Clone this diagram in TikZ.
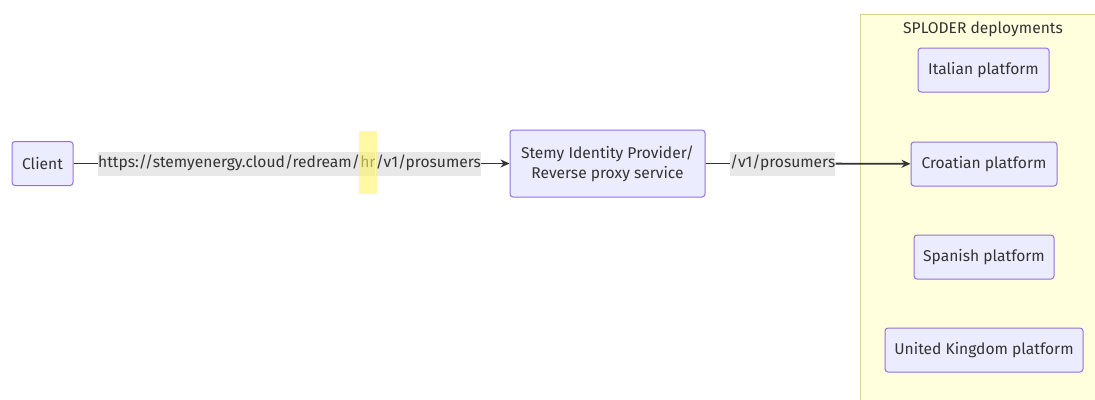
\documentclass[tikz,border=0pt]{standalone}
\usepackage{fontspec}
\setmainfont{Fira Sans}
\usetikzlibrary{positioning,arrows.meta}
\definecolor{boxfill}{HTML}{ECECFF}
\definecolor{boxline}{HTML}{9370DB}
\definecolor{grpfill}{HTML}{FFFFDE}
\definecolor{grpline}{HTML}{D6D68C}
\definecolor{lblfill}{HTML}{E8E8E8}
\definecolor{ink}{HTML}{333333}
\definecolor{hiyellow}{HTML}{FFF566}
\tikzset{
  box/.style={draw=boxline,fill=boxfill,rounded corners=3pt,line width=1pt,
    minimum height=44pt,inner xsep=8pt,text=ink,align=center},
  lbl/.style={fill=lblfill,text=ink,inner ysep=4pt,text height=12pt,text depth=4pt},
  link/.style={draw=ink,line width=1.8pt}
}
\begin{document}
\begin{tikzpicture}[x=1pt,y=-1pt,>={Stealth[length=9pt,width=8pt]},line join=round,font=\fontsize{15.6}{20}\selectfont]
\useasboundingbox (0,0) rectangle (1095,399);
% deployment group
\path[fill=grpfill,draw=grpline,line width=1pt] (860,14) rectangle (1100,405);
\node[text=ink] (grp) at (983,29) {SPLODER deployments};
% nodes
\node[box,minimum width=61pt] (client) at (42.5,163.5) {Client};
\node[box,minimum width=195pt,minimum height=67pt] (proxy) at (607.5,163.5)
  {Stemy Identity Provider/\\Reverse proxy service};
\node[box,minimum width=131pt] (it) at (983.5,70) {Italian platform};
\node[box,minimum width=146pt] (hr) at (984,164) {Croatian platform};
\node[box,minimum width=140pt] (es) at (984,257) {Spanish platform};
\node[box,minimum width=198pt] (uk) at (984,350) {United Kingdom platform};
% edge labels
\node[lbl,anchor=west,inner xsep=0pt] (urlA) at (98,163.5) {https://stemyenergy.cloud/redream/};
\node[lbl,right=0pt of urlA,inner xsep=0pt] (urlB) {hr};
\node[lbl,right=0pt of urlB,inner xsep=0pt] (urlC) {/v1/prosumers};
\node[lbl,anchor=west,inner xsep=0pt] (path) at (730,163.5) {/v1/prosumers};
% highlight
\fill[hiyellow,fill opacity=.6] ([xshift=-1pt]urlB.west |- 0,131) rectangle ([xshift=1pt]urlB.east |- 0,194);
% links
\draw[link] (client) -- (urlA);
\draw[link,->] (urlC) -- (proxy);
\draw[link] (proxy) -- (path);
\draw[link,->] (path) -- (hr);
\end{tikzpicture}
\end{document}
